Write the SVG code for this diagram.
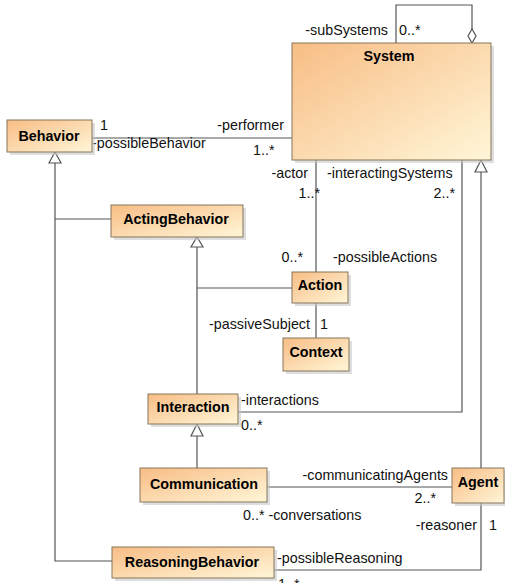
<svg xmlns="http://www.w3.org/2000/svg" width="505" height="583" viewBox="0 0 505 583">
<defs>
<linearGradient id="g" x1="0" y1="0" x2="1" y2="1">
<stop offset="0" stop-color="#f8bd85"/>
<stop offset="1" stop-color="#fff6d8"/>
</linearGradient>
<style>
.box{fill:url(#g);stroke:#85765a;stroke-width:1}
.sh{fill:#c8c8c8;opacity:0.6}
.t{font-family:"Liberation Sans",Arial,sans-serif;font-weight:bold;font-size:14.3px;fill:#000;text-anchor:middle}
.l{font-family:"Liberation Sans",Arial,sans-serif;font-size:14.3px;fill:#111}
.e{text-anchor:end}
.c{fill:none;stroke:#555;stroke-width:1.2}
.tri{fill:#fff;stroke:#555;stroke-width:1.2}
</style>
</defs>
<rect width="505" height="583" fill="#fff"/>
<g id="connectors">
<line class="c" x1="92" y1="138" x2="292" y2="138"/>
<path class="c" d="M396,43 V5 H472 V29"/>
<polygon class="tri" points="472,43 476,36 472,29 468,36"/>
<line class="c" x1="316" y1="160" x2="316" y2="272"/>
<path class="c" d="M462,160 V412 H238"/>
<line class="c" x1="481" y1="468" x2="481" y2="172"/>
<polygon class="tri" points="481,160 487,172 475,172"/>
<path class="c" d="M55,163 V561 H112 M55,219 H111"/>
<polygon class="tri" points="55,152 61,163 49,163"/>
<path class="c" d="M197,247 V394 M197,288 H292"/>
<polygon class="tri" points="197,237 203,247 191,247"/>
<line class="c" x1="316" y1="303" x2="316" y2="338"/>
<line class="c" x1="197" y1="436" x2="197" y2="468"/>
<polygon class="tri" points="197,424 203,436 191,436"/>
<line class="c" x1="267" y1="487" x2="452" y2="487"/>
<path class="c" d="M481,503 V570 H274"/>
<text class="l" x="100" y="130">1</text>
<text class="l e" x="284" y="130">-performer</text>
<text class="l" x="92" y="148">-possibleBehavior</text>
<text class="l" x="253" y="155">1..*</text>
<text class="l e" x="388" y="35">-subSystems</text>
<text class="l" x="399" y="35">0..*</text>
<text class="l e" x="308" y="178">-actor</text>
<text class="l e" x="320" y="198">1..*</text>
<text class="l" x="327" y="178">-interactingSystems</text>
<text class="l e" x="455" y="198">2..*</text>
<text class="l e" x="303" y="262">0..*</text>
<text class="l" x="333" y="262">-possibleActions</text>
<text class="l e" x="310" y="329">-passiveSubject</text>
<text class="l" x="320" y="329">1</text>
<text class="l" x="241" y="405">-interactions</text>
<text class="l" x="241" y="430">0..*</text>
<text class="l e" x="448" y="480">-communicatingAgents</text>
<text class="l e" x="436" y="503">2..*</text>
<text class="l" x="243" y="520">0..* -conversations</text>
<text class="l e" x="477" y="530">-reasoner</text>
<text class="l" x="489" y="530">1</text>
<text class="l" x="277" y="563">-possibleReasoning</text>
<text class="l" x="278" y="589">1..*</text>
</g>
<g id="System">
<rect class="sh" x="295" y="46" width="199" height="117"/>
<rect class="box" x="292" y="43" width="199" height="117"/>
<text class="t" x="389" y="61">System</text>
</g>
<g id="Behavior">
<rect class="sh" x="10" y="123" width="85" height="32"/>
<rect class="box" x="7" y="120" width="85" height="32"/>
<text class="t" x="49" y="141">Behavior</text>
</g>
<g id="ActingBehavior">
<rect class="sh" x="114" y="208" width="132" height="32"/>
<rect class="box" x="111" y="205" width="132" height="32"/>
<text class="t" x="176" y="224">ActingBehavior</text>
</g>
<g id="Action">
<rect class="sh" x="295" y="275" width="56" height="31"/>
<rect class="box" x="292" y="272" width="56" height="31"/>
<text class="t" x="320" y="290">Action</text>
</g>
<g id="Context">
<rect class="sh" x="286" y="341" width="66" height="33"/>
<rect class="box" x="283" y="338" width="66" height="33"/>
<text class="t" x="316" y="357">Context</text>
</g>
<g id="Interaction">
<rect class="sh" x="151" y="397" width="90" height="30"/>
<rect class="box" x="148" y="394" width="90" height="30"/>
<text class="t" x="193" y="412">Interaction</text>
</g>
<g id="Communication">
<rect class="sh" x="143" y="471" width="127" height="34"/>
<rect class="box" x="140" y="468" width="127" height="34"/>
<text class="t" x="204" y="489">Communication</text>
</g>
<g id="Agent">
<rect class="sh" x="455" y="471" width="52" height="35"/>
<rect class="box" x="452" y="468" width="52" height="35"/>
<text class="t" x="478" y="487">Agent</text>
</g>
<g id="ReasoningBehavior">
<rect class="sh" x="115" y="550" width="162" height="31"/>
<rect class="box" x="112" y="547" width="162" height="31"/>
<text class="t" x="192" y="567">ReasoningBehavior</text>
</g>
</svg>
